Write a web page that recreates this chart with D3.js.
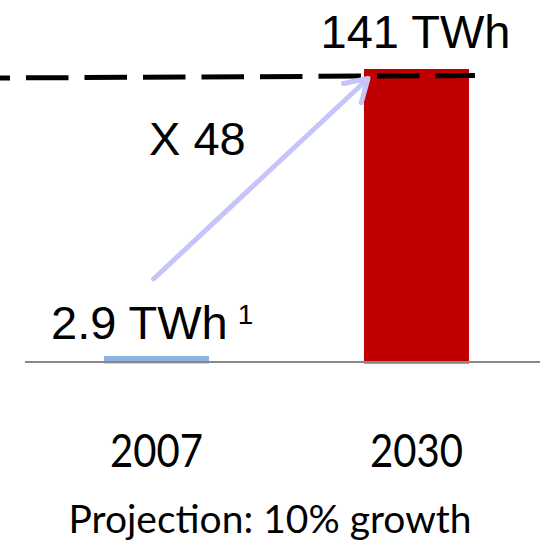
<!DOCTYPE html>
<html>
<head>
<meta charset="utf-8">
<script src="https://cdn.jsdelivr.net/npm/d3@7"></script>
<style>
  html, body { margin: 0; padding: 0; background: #fff; }
  svg { display: block; }
</style>
</head>
<body>
<svg id="chart" width="540" height="540"></svg>
<script>
// Electricity demand, actual vs projected
const years = ["2007", "2030"];
const values = [2.9, 141];
const valueLabels = ["2.9 TWh", "141 TWh"];
const barColors = ["#8db3e2", "#c00000"];
const growthLabel = "X 48";
const footnoteMark = "1";
const caption = "Projection: 10% growth";

const svg = d3.select("#chart");
const W = 540, H = 540;

const x = d3.scaleBand()
  .domain(years)
  .range([25, 548])
  .paddingInner(0.596)
  .paddingOuter(0.304);

const y = d3.scaleLinear()
  .domain([0, d3.max(values)])
  .range([362, 69]);

const sans = "'Liberation Sans', Arial, sans-serif";
const humanist = "Lato, 'Open Sans', sans-serif";

// bars
svg.selectAll("rect.bar")
  .data(years)
  .join("rect")
  .attr("class", "bar")
  .attr("x", d => x(d))
  .attr("width", x.bandwidth())
  .attr("y", (d, i) => y(values[i]))
  .attr("height", (d, i) => y(0) - y(values[i]) + 1.5)
  .attr("fill", (d, i) => barColors[i]);

// baseline
svg.append("line")
  .attr("x1", 25).attr("x2", W)
  .attr("y1", y(0)).attr("y2", y(0))
  .attr("stroke", "#888").attr("stroke-width", 2);

// dashed reference level at the projected value
svg.append("line")
  .attr("x1", 0).attr("x2", x(years[1]) + x.bandwidth() + 6)
  .attr("y1", y(values[1]) + 9).attr("y2", y(values[1]) + 6.5)
  .attr("stroke", "#000").attr("stroke-width", 5)
  .attr("stroke-dasharray", "42.5,16")
  .attr("stroke-dashoffset", 32.5);

// growth arrow from the 2007 level to the 2030 level
const x0 = x(years[0]) + x.bandwidth() / 2 - 3;
const y0 = y(values[0]) - 77;
const x1 = x(years[1]) + 4;
const y1 = y(values[1]) + 9.5;
const arrowColor = "#c5c5fb";
svg.append("line")
  .attr("x1", x0).attr("y1", y0)
  .attr("x2", x1 - 3).attr("y2", y1 + 3)
  .attr("stroke", arrowColor).attr("stroke-width", 5)
  .attr("stroke-linecap", "round");
const ang = Math.atan2(y1 - y0, x1 - x0);
const headLen = 25, spread = 0.55;
const head = d3.path();
head.moveTo(x1 - headLen * Math.cos(ang - spread), y1 - headLen * Math.sin(ang - spread));
head.lineTo(x1, y1);
head.lineTo(x1 - headLen * Math.cos(ang + spread), y1 - headLen * Math.sin(ang + spread));
svg.append("path")
  .attr("d", head.toString())
  .attr("fill", "none")
  .attr("stroke", arrowColor).attr("stroke-width", 5)
  .attr("stroke-linecap", "round").attr("stroke-linejoin", "round");

// value labels
svg.append("text")
  .attr("x", x(years[1]) + x.bandwidth() / 2 - 1)
  .attr("y", 48)
  .attr("text-anchor", "middle")
  .attr("font-family", sans).attr("font-size", 47)
  .attr("fill", "#000")
  .text(valueLabels[1]);

const lbl = svg.append("text")
  .attr("x", 51)
  .attr("y", 338.5)
  .attr("font-family", sans).attr("font-size", 47)
  .attr("fill", "#000");
lbl.append("tspan").text(valueLabels[0]);
lbl.append("tspan")
  .attr("dx", 10).attr("dy", -14.5)
  .attr("font-size", 28)
  .text(footnoteMark);

svg.append("text")
  .attr("x", 149)
  .attr("y", 155)
  .attr("font-family", sans).attr("font-size", 47)
  .attr("fill", "#000")
  .text(growthLabel);

// category axis labels
svg.selectAll("text.year")
  .data(years)
  .join("text")
  .attr("class", "year")
  .attr("x", d => x(d) + x.bandwidth() / 2)
  .attr("y", 467)
  .attr("text-anchor", "middle")
  .attr("font-family", humanist).attr("font-size", 46)
  .attr("textLength", 93)
  .attr("lengthAdjust", "spacingAndGlyphs")
  .attr("fill", "#000")
  .text(d => d);

svg.append("text")
  .attr("x", 270)
  .attr("y", 532.5)
  .attr("text-anchor", "middle")
  .attr("font-family", humanist).attr("font-size", 39)
  .attr("fill", "#000")
  .text(caption);
</script>
</body>
</html>
